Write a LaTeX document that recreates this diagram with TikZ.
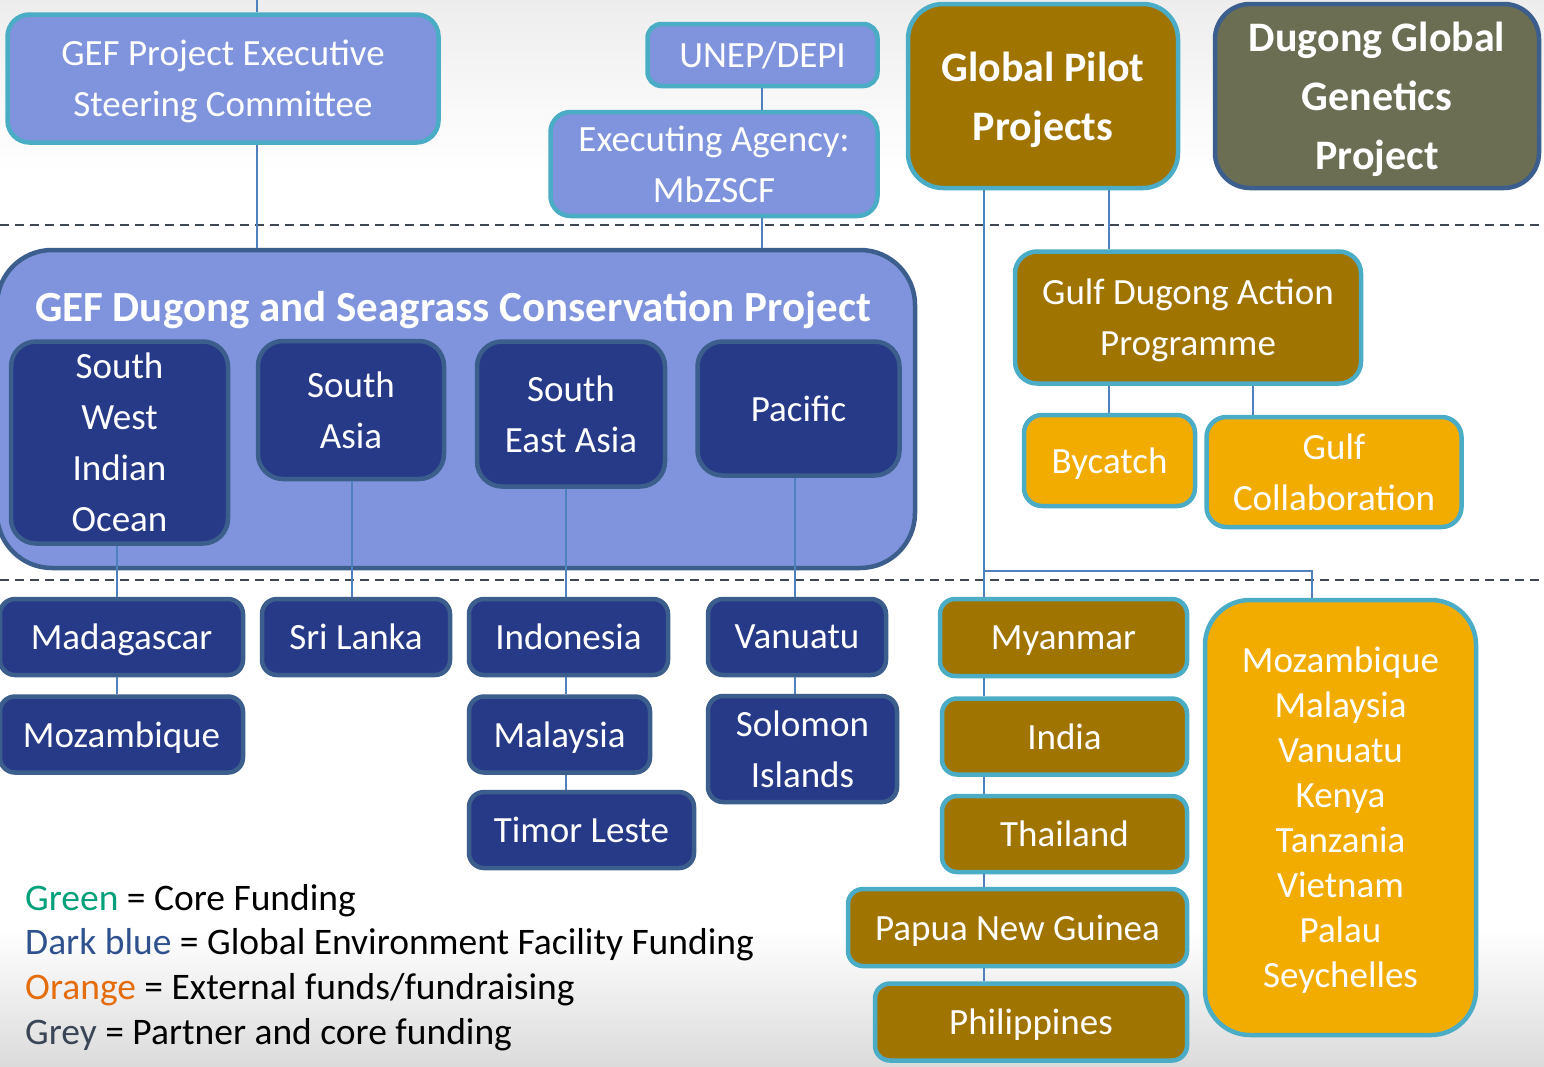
\documentclass[tikz,border=0pt]{standalone}
\usepackage{fontspec}
\setmainfont{Carlito}
\usetikzlibrary{calc}
\definecolor{lbfill}{HTML}{7F94DC}
\definecolor{tealb}{HTML}{4BACC6}
\definecolor{navyfill}{HTML}{273A88}
\definecolor{darkb}{HTML}{3B5E8C}
\definecolor{brownfill}{HTML}{A07400}
\definecolor{orangefill}{HTML}{F2AC00}
\definecolor{olivefill}{HTML}{6B6E53}
\definecolor{connc}{HTML}{4F81BD}
\definecolor{dashc}{HTML}{3F4753}
\definecolor{lgreen}{HTML}{00A07A}
\definecolor{lblue}{HTML}{2F528F}
\definecolor{lorange}{HTML}{E46C0A}
\definecolor{lgrey}{HTML}{3A4556}
\tikzset{
  box/.style={rounded corners=#1, line width=4.5pt, text=white, align=center, inner sep=0pt, text depth=0pt, font=\fontsize{37}{51}\selectfont},
  box/.default=15pt,
  lbox/.style={box=#1, fill=lbfill, draw=tealb}, lbox/.default=15pt,
  nbox/.style={box=#1, fill=navyfill, draw=darkb}, nbox/.default=15pt,
  bbox/.style={box=#1, fill=brownfill, draw=tealb}, bbox/.default=15pt,
  obox/.style={box=#1, fill=orangefill, draw=tealb}, obox/.default=15pt,
  sz/.style 2 args={minimum width=#1, minimum height=#2},
  hdr/.style={font=\fontsize{42}{59}\selectfont\bfseries},
  conn/.style={draw=connc, line width=2pt},
  dashline/.style={draw=dashc, line width=2.2pt, dash pattern=on 9pt off 6pt},
  legend/.style={font=\fontsize{37.5}{45}\selectfont, text=black, inner sep=0pt, anchor=base west}
}
\begin{document}
\begin{tikzpicture}[x=1pt, y=-1pt]
\useasboundingbox (0,0) rectangle (1544,1066);
% background
\fill[white] (0,0) rectangle (1544,1066);
\fill[top color=gray!14, bottom color=white] (0,0) rectangle (1544,170);
\fill[top color=white, bottom color=gray!28] (0,930) rectangle (1544,1066);
% dashed separators
\draw[dashline] (0,225) -- (1544,225);
\draw[dashline] (0,580) -- (1544,580);

% top row
\node[lbox=22pt, sz={431}{128}] (exec) at (223,78.5) {GEF Project Executive\\Steering Committee};
\node[lbox=14pt, sz={230}{62}] (unep) at (762.5,55) {UNEP/DEPI};
\node[lbox=20pt, sz={327}{104}] (agency) at (714,164) {Executing Agency:\\MbZSCF};
\node[bbox=35pt, sz={270}{184}, hdr] (gpp) at (1043,96) {Global Pilot\\Projects};
\node[box=35pt, fill=olivefill, draw=darkb, sz={324}{184}, hdr] (dgg) at (1377,96) {Dugong Global\\Genetics\\Project};

% GEF project
\node[box=55pt, fill=lbfill, draw=darkb, sz={918}{318}] (gef) at (456,409) {};
\node[text=white, inner sep=0pt, text depth=0pt, font=\fontsize{43}{50}\selectfont\bfseries] (title) at (453,306) {GEF Dugong and Seagrass Conservation Project};
\node[nbox=25pt, sz={217}{202}] (swio) at (119.5,442.5) {South\\West\\Indian\\Ocean};
\node[nbox=25pt, sz={186}{138}] (sasia) at (351,410) {South\\Asia};
\node[nbox=25pt, sz={188}{145}] (sea) at (571,414) {South\\East Asia};
\node[nbox=25pt, sz={202}{134}] (pac) at (798.5,408.5) {Pacific};

% countries (GEF)
\node[nbox, sz={243}{76}] (mad) at (121.5,637) {Madagascar};
\node[nbox, sz={243}{76}] (moz) at (121.5,734.5) {Mozambique};
\node[nbox, sz={188}{76}] (sri) at (356,637) {Sri Lanka};
\node[nbox, sz={199}{76}] (indo) at (568.5,637) {Indonesia};
\node[nbox, sz={181}{76}] (malay) at (559.5,734.5) {Malaysia};
\node[nbox, sz={225}{76}] (timor) at (581.5,830) {Timor Leste};
\node[nbox, sz={178}{76}] (van) at (797,637) {Vanuatu};
\node[nbox, sz={189}{106}] (sol) at (802.5,749) {Solomon\\Islands};

% gulf programme
\node[bbox=22pt, sz={346}{132}] (gdap) at (1188,317.5) {Gulf Dugong Action\\Programme};
\node[obox=18pt, sz={171}{91}] (byc) at (1109.5,460.5) {Bycatch};
\node[obox=20pt, sz={255}{110}] (gcol) at (1334,472) {Gulf\\Collaboration};

% pilot countries
\node[bbox, sz={247}{77}] (myan) at (1063.5,637.5) {Myanmar};
\node[bbox, sz={245}{76}] (india) at (1064.5,736.5) {India};
\node[bbox, sz={245}{76}] (thai) at (1064.5,834) {Thailand};
\node[bbox, sz={339}{77}] (png) at (1017.5,927.5) {Papua New Guinea};
\node[bbox, sz={312}{77}] (phil) at (1031,1022) {Philippines};
\node[obox=45pt, sz={271}{435}, font=\fontsize{37}{45}\selectfont] (list) at (1340.5,817.5) {Mozambique\\Malaysia\\Vanuatu\\Kenya\\Tanzania\\Vietnam\\Palau\\Seychelles};

% connector columns
\coordinate (cA) at (257,0);
\coordinate (cB) at (762,0);
\coordinate (cC) at (984,0);
\coordinate (cD) at (1109,0);
\coordinate (cE) at (1253,0);
\coordinate (cF) at (1312,571);
\coordinate (c1) at (117,0);
\coordinate (c2) at (352,0);
\coordinate (c3) at (566,0);
\coordinate (c4) at (795,0);

% connectors
\draw[conn] (cA) -- (exec.north-|cA);
\draw[conn] (exec.south-|cA) -- (gef.north-|cA);
\draw[conn] (unep.south-|cB) -- (agency.north-|cB);
\draw[conn] (agency.south-|cB) -- (gef.north-|cB);
\draw[conn] (gpp.south-|cD) -- (gdap.north-|cD);
\draw[conn] (gdap.south-|cD) -- (byc.north-|cD);
\draw[conn] (gdap.south-|cE) -- (gcol.north-|cE);
\draw[conn] (gpp.south-|cC) -- (myan.north-|cC);
\draw[conn] (myan.south-|cC) -- (india.north-|cC);
\draw[conn] (india.south-|cC) -- (thai.north-|cC);
\draw[conn] (thai.south-|cC) -- (png.north-|cC);
\draw[conn] (png.south-|cC) -- (phil.north-|cC);
\draw[conn] (cF-|cC) -- (cF) -- (list.north-|cF);
\draw[conn] (swio.south-|c1) -- (mad.north-|c1);
\draw[conn] (mad.south-|c1) -- (moz.north-|c1);
\draw[conn] (sasia.south-|c2) -- (sri.north-|c2);
\draw[conn] (sea.south-|c3) -- (indo.north-|c3);
\draw[conn] (indo.south-|c3) -- (malay.north-|c3);
\draw[conn] (malay.south-|c3) -- (timor.north-|c3);
\draw[conn] (pac.south-|c4) -- (van.north-|c4);
\draw[conn] (van.south-|c4) -- (sol.north-|c4);

% legend
\node[legend] (leg1) at (25,910) {\textcolor{lgreen}{Green} = Core Funding};
\node[legend] (leg2) at (25,954) {\textcolor{lblue}{Dark blue} = Global Environment Facility Funding};
\node[legend] (leg3) at (25,999) {\textcolor{lorange}{Orange} = External funds/fundraising};
\node[legend] (leg4) at (25,1044) {\textcolor{lgrey}{Grey} = Partner and core funding};
\end{tikzpicture}
\end{document}
